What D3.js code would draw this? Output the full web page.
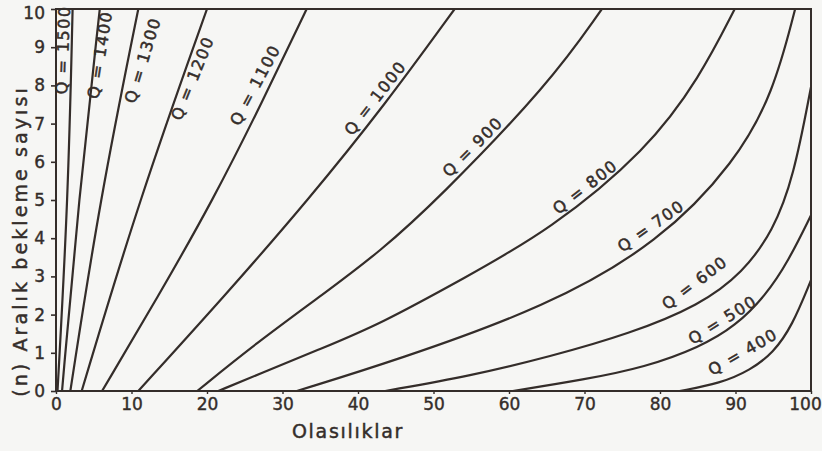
<!DOCTYPE html>
<html><head><meta charset="utf-8">
<script src="https://cdn.jsdelivr.net/npm/d3@7/dist/d3.min.js"></script>
<style>html,body{margin:0;padding:0;background:#f6f6f4;}svg{display:block;}</style>
</head><body>
<svg id="chart" width="822" height="451"></svg>
<script>
// ---------- data ----------
const xTicks = [0, 10, 20, 30, 40, 50, 60, 70, 80, 90, 100];
const yTicks = [0, 1, 2, 3, 4, 5, 6, 7, 8, 9, 10];
const flows = [1500, 1400, 1300, 1200, 1100, 1000, 900, 800, 700, 600, 500, 400];
const xTitle = "Olasılıklar";
const yTitle = "(n) Aralık bekleme sayısı";

// each curve: [probability %, n]
const q1500 = [[0.2, 0], [1.6, 5], [2.2, 10]];
const q1400 = [[0.8, 0], [3.0, 5], [5.8, 10]];
const q1300 = [[1.9, 0], [5.8, 5], [10.9, 10]];
const q1200 = [[3.4, 0], [11.0, 5], [20.0, 10]];
const q1100 = [[6.1, 0], [13.6, 2.5], [20.8, 5], [27.4, 7.6], [33.2, 10]];
const q1000 = [[10.9, 0], [22.4, 2.5], [33.4, 5], [43.6, 7.5], [52.8, 10]];
const q900  = [[18.7, 0], [26.5, 1.25], [35.5, 2.55], [42.9, 3.65], [50.5, 5.0], [65.4, 8.06], [72.3, 10]];
const q800  = [[21.5, 0], [27.0, 0.45], [35.0, 1.1], [42.9, 1.75], [54.0, 2.95], [65.4, 4.21], [78.3, 6.31], [85.3, 8.22], [89.9, 10]];
const q700  = [[31.9, 0], [45.0, 0.8], [65.0, 2.2], [80.0, 3.9], [90.0, 6.0], [95.0, 7.8], [97.9, 10]];
const q600  = [[43.6, 0], [55.0, 0.4], [65.4, 0.9], [76.0, 1.5], [85.3, 2.25], [91.0, 3.1], [95.0, 4.2], [97.7, 5.6], [100, 7.96]];
const q500  = [[60.5, 0], [70.0, 0.3], [78.0, 0.62], [85.3, 1.15], [90.0, 1.7], [94.0, 2.5], [97.0, 3.4], [100, 4.6]];
const q400  = [[82.6, 0], [88.0, 0.2], [92.0, 0.55], [95.0, 1.0], [97.5, 1.7], [100, 2.9]];
const curves = [q1500, q1400, q1300, q1200, q1100, q1000, q900, q800, q700, q600, q500, q400];

// label placement (layout, not data): centre in data units and rotation
const labelPlace = [
  {p: 0.93, n: 8.93, r: -88}, {p: 5.83, n: 8.80, r: -81}, {p: 11.5, n: 8.66, r: -73},
  {p: 18.1, n: 8.19, r: -68}, {p: 26.4, n: 8.01, r: -62}, {p: 42.3, n: 7.67, r: -52},
  {p: 55.2, n: 6.39, r: -45}, {p: 70.1, n: 5.34, r: -38}, {p: 78.8, n: 4.32, r: -35},
  {p: 84.6, n: 2.83, r: -37}, {p: 88.3, n: 1.86, r: -32}, {p: 91.0, n: 1.02, r: -30}
];

// ---------- drawing ----------
const ink = "#342d2a";
const svg = d3.select("#chart");
const W = 822, H = 451;
const m = {left: 56, right: 11, top: 9, bottom: 60};
const x = d3.scaleLinear().domain([0, 100]).range([m.left, W - m.right]);
const y = d3.scaleLinear().domain([0, 10]).range([H - m.bottom, m.top]);

svg.append("rect").attr("width", W).attr("height", H).attr("fill", "#f6f6f4");

svg.append("defs").append("clipPath").attr("id", "plot")
  .append("rect").attr("x", x(0)).attr("y", y(10))
  .attr("width", x(100) - x(0)).attr("height", y(0) - y(10));

const tickFont = "'DejaVu Sans', 'Liberation Sans', sans-serif";

// y axis
const yAxis = svg.append("g").attr("transform", `translate(${x(0)},0)`)
  .call(d3.axisLeft(y).tickValues(yTicks).tickSize(5).tickPadding(6).tickFormat(d3.format("d")));
yAxis.select(".domain").remove();
yAxis.selectAll("line").attr("stroke", ink).attr("stroke-width", 1.6);
yAxis.selectAll("text").attr("fill", ink).style("font-family", tickFont)
  .style("font-size", "17px").attr("stroke", ink).attr("stroke-width", 0.4)
  .attr("dy", d => d === 10 ? "0.55em" : "0.32em");

// x axis
const xAxis = svg.append("g").attr("transform", `translate(0,${y(0)})`)
  .call(d3.axisBottom(x).tickValues(xTicks).tickSize(3).tickPadding(4).tickFormat(d3.format("d")));
xAxis.select(".domain").remove();
xAxis.selectAll("line").attr("stroke", ink).attr("stroke-width", 1.4);
xAxis.selectAll("text").attr("fill", ink).style("font-family", tickFont)
  .style("font-size", "17px").attr("stroke", ink).attr("stroke-width", 0.4)
  .attr("dx", d => d === 100 ? "-6" : "0");

// curves
const line = d3.line().x(d => x(d[0])).y(d => y(d[1])).curve(d3.curveBasis);
svg.append("g").attr("clip-path", "url(#plot)")
  .selectAll("path").data(curves).join("path")
  .attr("d", line).attr("fill", "none").attr("stroke", ink)
  .attr("stroke-width", 2.2).attr("stroke-linejoin", "round").attr("stroke-linecap", "round");

// frame
svg.append("rect")
  .attr("x", x(0)).attr("y", y(10))
  .attr("width", x(100) - x(0)).attr("height", y(0) - y(10))
  .attr("fill", "none").attr("stroke", ink).attr("stroke-width", 2);

// curve labels
svg.append("g").selectAll("text").data(flows).join("text")
  .attr("transform", (d, i) => `translate(${x(labelPlace[i].p)},${y(labelPlace[i].n)}) rotate(${labelPlace[i].r})`)
  .attr("text-anchor", "middle").attr("dominant-baseline", "central")
  .style("font-family", tickFont).style("font-size", "16px").style("letter-spacing", "1.5px")
  .attr("fill", ink).attr("stroke", ink).attr("stroke-width", 0.5)
  .text(d => `Q = ${d}`);

// axis titles
svg.append("text")
  .attr("transform", `translate(20,241) rotate(-90)`)
  .attr("text-anchor", "middle").attr("dominant-baseline", "central")
  .style("font-family", tickFont).style("font-size", "19px").style("letter-spacing", "3.1px")
  .attr("fill", ink).attr("stroke", ink).attr("stroke-width", 0.45)
  .text(yTitle);

svg.append("text")
  .attr("x", 348).attr("y", 438)
  .attr("text-anchor", "middle")
  .style("font-family", tickFont).style("font-size", "19px").style("letter-spacing", "1.7px")
  .attr("fill", ink).attr("stroke", ink).attr("stroke-width", 0.45)
  .text(xTitle);
</script>
</body></html>
